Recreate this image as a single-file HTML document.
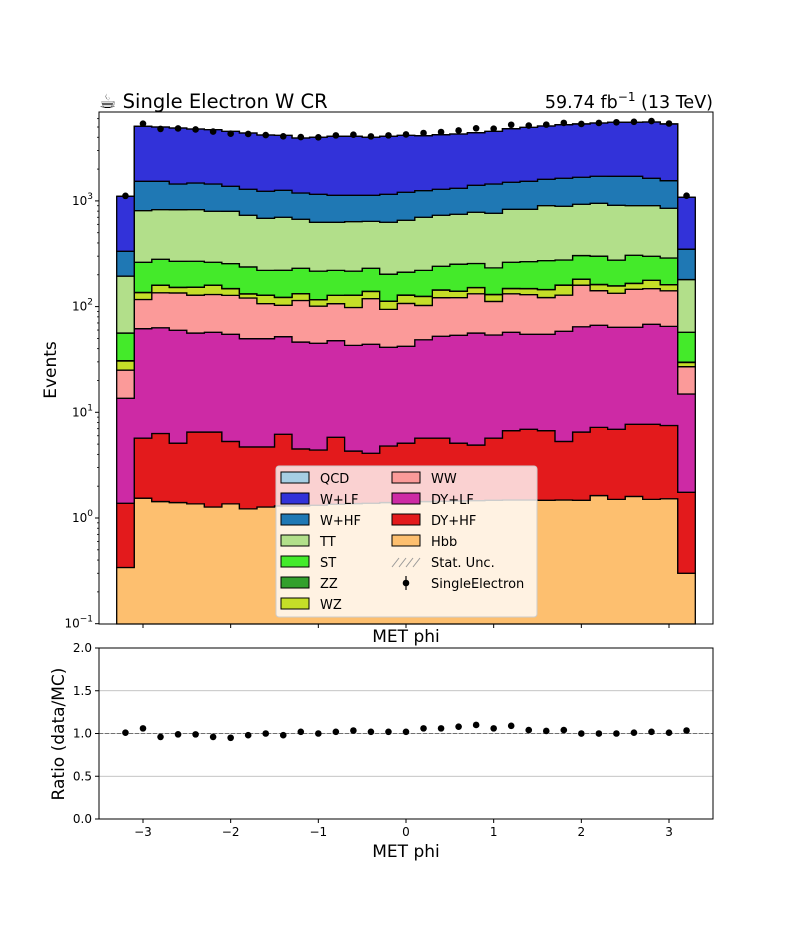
<!DOCTYPE html>
<html><head><meta charset="utf-8"><style>
body{margin:0;background:#fff;}
svg{display:block;font-family:"DejaVu Sans","Liberation Sans",sans-serif;}
</style></head><body>
<svg id="fig" width="792" height="936" viewBox="0 0 792 936">
<rect width="792" height="936" fill="#fff"/>
<g id="main-stack"></g>
<g id="main-data"></g>
<g id="main-axes"></g>
<g id="ratio"></g>
<text x="99" y="108" font-size="19.5">☕ Single Electron W CR</text>
<text x="713" y="108" font-size="17.5" text-anchor="end">59.74 fb<tspan dy="-7" font-size="12">−1</tspan><tspan dy="7"> (13 TeV)</tspan></text>
<text x="406" y="642" font-size="17" text-anchor="middle">MET phi</text>
<text x="406" y="857" font-size="17" text-anchor="middle">MET phi</text>
<text transform="translate(56,370) rotate(-90)" font-size="17" text-anchor="middle">Events</text>
<text transform="translate(64,734) rotate(-90)" font-size="17" text-anchor="middle">Ratio (data/MC)</text>
<g id="legend"></g>
</svg>
<script>
// ---- data ----
const binEdgesLo = [-3.3,-3.1,-2.9,-2.7,-2.5,-2.3,-2.1,-1.9,-1.7,-1.5,-1.3,-1.1,-0.9,-0.7,-0.5,-0.3,-0.1,0.1,0.3,0.5,0.7,0.9,1.1,1.3,1.5,1.7,1.9,2.1,2.3,2.5,2.7,2.9,3.1];
const binWidth = 0.2;
const hbb  = [0.34,1.54,1.43,1.40,1.36,1.27,1.36,1.22,1.27,1.30,1.30,1.32,1.35,1.37,1.38,1.40,1.42,1.43,1.44,1.45,1.46,1.47,1.48,1.48,1.47,1.48,1.47,1.63,1.5,1.6,1.5,1.52,0.30];
const dyhf = [1.04,4.16,4.87,3.70,5.14,5.23,3.94,3.48,3.43,4.90,3.20,3.08,4.45,2.93,2.72,3.40,3.68,4.27,4.26,3.65,3.44,4.23,5.22,5.42,5.23,3.82,5.03,5.57,5.4,6.1,6.2,5.98,1.45];
const dylf = [12.2,56.1,56.7,54.6,49.7,50.6,49.4,45.0,45.0,45.7,41.7,40.6,41.8,38.7,39.9,36.4,37.0,42.9,46.7,48.4,51.3,48.2,50.4,47.8,48.0,53.1,58.0,59.3,56.8,56.0,60.3,57.5,13.15];
const ww   = [11.5,55,72,75,72,73,73,71,57,51,68,56,59,55,75,53,65,54,69,68,76,58,75,75,67,70,95,75,70,82,80,76,12.1];
const wz   = [5.5,19,24,17,24,29,20,11,21,19,18,15,21,30,20,18,21,22,22,18,19,18,16,18,23,31,22,20,23,20,29,20,2.6];
const zz   = [0.2,0.5,0.5,0.5,0.5,0.5,0.5,0.5,0.5,0.5,0.5,0.5,0.5,0.5,0.5,0.5,0.5,0.5,0.5,0.5,0.5,0.5,0.5,0.5,0.5,0.5,0.5,0.5,0.5,0.5,0.5,0.5,0.2];
const st   = [25.4,126,121,116,116,103,107,105,92,98,98,100,92,88,91,90,83,95,97,112,104,102,114,118,127,116,122,138,118,140,122,127,27.4];
const tt   = [138,547,546,558,558,535,542,494,464,480,440,411,407,420,410,425,444,480,491,496,525,532,570,566,630,614,626,649,633,596,603,563,123];
const whf  = [140,723,706,619,651,648,577,557,549,559,518,527,502,493,489,527,551,550,557,568,624,681,668,700,699,747,743,761,801,807,734,702,169];
const wlf  = [771,3543,3468,3450,3313,3275,3176,3099,2967,2911,2748,2844,2956,2956,2869,2931,2964,2890,2942,2980,3016,3105,3320,3433,3514,3624,3673,3751,3836,3836,3944,3792,733];
const qcd  = [0,0,0,0,0,0,0,0,0,0,0,0,0,0,0,0,0,0,0,0,0,0,0,0,0,0,0,0,0,0,0,0,0];
const dataCounts = [1116,5380,4800,4846,4742,4531,4323,4299,4200,4087,4015,3998,4167,4228,4078,4167,4253,4388,4484,4639,4862,4823,5254,5164,5268,5470,5345,5460,5545,5600,5692,5398,1120];
const xTicks = [-3,-2,-1,0,1,2,3];
const yTickExps = [-1,0,1,2,3];
const ratioTicks = [0.0,0.5,1.0,1.5,2.0];

// ---- axes ----
const NS="http://www.w3.org/2000/svg";
const L=99,R=713,T=112,B=624,RT=648,RB=819;
const xs = v => 406 + v*87.67;
const ys = v => 518 - Math.log10(Math.max(v,1e-3))*105.7;
const yr = v => 819 - v*85.5;
function mk(tag,attrs,parent){const e=document.createElementNS(NS,tag);for(const k in attrs)e.setAttribute(k,attrs[k]);parent.appendChild(e);return e;}

const stackG=document.getElementById('main-stack');
const procs=[
 {n:'Hbb',v:hbb,c:'#fdbf6f'},{n:'DY+HF',v:dyhf,c:'#e31a1c'},{n:'DY+LF',v:dylf,c:'#cd2aa5'},
 {n:'WW',v:ww,c:'#fb9a99'},{n:'WZ',v:wz,c:'#c5de28'},{n:'ZZ',v:zz,c:'#33a02c'},
 {n:'ST',v:st,c:'#44ea2a'},{n:'TT',v:tt,c:'#b2df8a'},{n:'W+HF',v:whf,c:'#1f78b4'},
 {n:'W+LF',v:wlf,c:'#3232d9'},{n:'QCD',v:qcd,c:'#a6cee3'}];
const clipY=y=>Math.min(Math.max(y,T),B);
let lower=binEdgesLo.map(()=>0.01);
procs.forEach(p=>{
  const upper=lower.map((l,i)=>(l<=0.01?0:l)+p.v[i]);
  let top='',bot='';
  binEdgesLo.forEach((x0,i)=>{
    const a=xs(x0),b=xs(x0+binWidth);
    top+=(i?'L':'M')+a+','+clipY(ys(upper[i]))+'L'+b+','+clipY(ys(upper[i]));
  });
  for(let i=binEdgesLo.length-1;i>=0;i--){
    const a=xs(binEdgesLo[i]),b=xs(binEdgesLo[i]+binWidth);
    bot+='L'+b+','+clipY(ys(lower[i]))+'L'+a+','+clipY(ys(lower[i]));
  }
  const path=mk('path',{d:top+bot+'Z',fill:p.c,stroke:'#000','stroke-width':1.3,'stroke-linejoin':'miter'},stackG);
  
  
  lower=upper;
});
const mcTotal=lower;

// data points
const dG=document.getElementById('main-data');
dataCounts.forEach((d,i)=>{
  const cx=xs(binEdgesLo[i]+binWidth/2);
  const err=Math.sqrt(d);
  const ln=mk('line',{x1:cx,x2:cx,y1:ys(d+err),y2:ys(d-err),stroke:'#000','stroke-width':1.2},dG);
  
  
  const c=mk('circle',{cx:cx,cy:ys(d),r:3.3,fill:'#000'},dG);
  
  
});

// main axes
const aG=document.getElementById('main-axes');
mk('rect',{x:L,y:T,width:R-L,height:B-T,fill:'none',stroke:'#000','stroke-width':1},aG);
xTicks.forEach(t=>{mk('line',{x1:xs(t),x2:xs(t),y1:B,y2:B+4,stroke:'#000'},aG);});
yTickExps.forEach(e=>{
  const y=ys(Math.pow(10,e));
  mk('line',{x1:L-4,x2:L,y1:y,y2:y,stroke:'#000'},aG);
  const t=mk('text',{x:L-6,y:y+4,'font-size':12,'text-anchor':'end'},aG);
  
  
  t.innerHTML='10<tspan dy="-6" font-size="9">'+(e<0?'−'+(-e):e)+'</tspan>';
  if(e<3){for(let m=2;m<10;m++){const ym=ys(m*Math.pow(10,e));if(ym>=T)mk('line',{x1:L-2,x2:L,y1:ym,y2:ym,stroke:'#000','stroke-width':0.8},aG);}}
});
for(let m=2;m<10;m++){const ym=ys(m*1000);if(ym>=T)mk('line',{x1:L-2,x2:L,y1:ym,y2:ym,stroke:'#000','stroke-width':0.8},aG);}

// ratio panel
const rG=document.getElementById('ratio');
[0.5,1.0,1.5].forEach(v=>mk('line',{x1:L,x2:R,y1:yr(v),y2:yr(v),stroke:'#b0b0b0','stroke-width':0.8},rG));
mk('line',{x1:L,x2:R,y1:yr(1),y2:yr(1),stroke:'#555','stroke-width':0.8,'stroke-dasharray':'4,2'},rG);
mk('rect',{x:L,y:RT,width:R-L,height:RB-RT,fill:'none',stroke:'#000'},rG);
dataCounts.forEach((d,i)=>{
  const cx=xs(binEdgesLo[i]+binWidth/2);
  const c=mk('circle',{cx:cx,cy:yr(d/mcTotal[i]),r:3.3,fill:'#000'},rG);
  
  
});
xTicks.forEach(t=>{
  mk('line',{x1:xs(t),x2:xs(t),y1:RB,y2:RB+4,stroke:'#000'},rG);
  const tx=mk('text',{x:xs(t),y:RB+17,'font-size':12,'text-anchor':'middle'},rG);
  
  
  tx.textContent=t<0?'−'+(-t):t;
});
ratioTicks.forEach(v=>{
  mk('line',{x1:L-4,x2:L,y1:yr(v),y2:yr(v),stroke:'#000'},rG);
  const tx=mk('text',{x:L-7,y:yr(v)+4,'font-size':12,'text-anchor':'end'},rG);
  
  
  tx.textContent=v.toFixed(1);
});

// legend
const lg=document.getElementById('legend');
mk('rect',{x:276,y:466,width:261,height:151,rx:3,fill:'#fff','fill-opacity':0.8,stroke:'#ccc'},lg);
const col1=[['QCD','#a6cee3'],['W+LF','#3232d9'],['W+HF','#1f78b4'],['TT','#b2df8a'],['ST','#44ea2a'],['ZZ','#33a02c'],['WZ','#c5de28']];
const col2=[['WW','#fb9a99'],['DY+LF','#cd2aa5'],['DY+HF','#e31a1c'],['Hbb','#fdbf6f']];
function entry(x,y,label,color){
  const g=mk('g',{},lg);
  
  
  if(color)mk('rect',{x:x,y:y-6,width:28,height:11,fill:color,stroke:'#000'},g);
  const t=mk('text',{x:x+39,y:y+5,'font-size':13},g);t.textContent=label;
  return g;
}
col1.forEach((e,i)=>entry(281,478+i*21,e[0],e[1]));
col2.forEach((e,i)=>entry(392,478+i*21,e[0],e[1]));
const gh=entry(392,478+4*21,'Stat. Unc.',null);
for(let k=0;k<4;k++)mk('line',{x1:392+k*7,y1:567,x2:399+k*7,y2:558,stroke:'#999','stroke-width':1},gh);
const gd=entry(392,478+5*21,'SingleElectron',null);
mk('line',{x1:406,x2:406,y1:576,y2:590,stroke:'#000','stroke-width':1.2},gd);
mk('circle',{cx:406,cy:583,r:3.3,fill:'#000'},gd);
</script>
</body></html>
